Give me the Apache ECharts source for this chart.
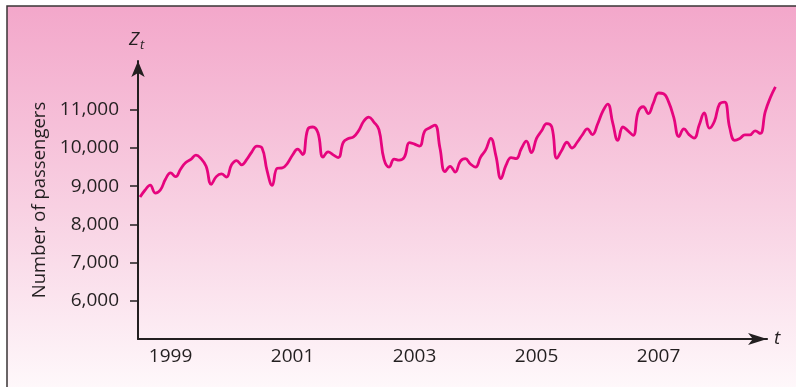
<!DOCTYPE html>
<html>
<head>
<meta charset="utf-8">
<script src="https://cdn.jsdelivr.net/npm/echarts@6/dist/echarts.min.js"></script>
<style>
html,body{margin:0;padding:0;background:#fff;}
#chart{width:796px;height:387px;}
</style>
</head>
<body>
<div id="chart"></div>
<script>
// Monthly passengers, Jan 1999 .. Jun 2009
const passengers = [
  8715, 8900, 9030, 8820, 8900, 9180, 9350, 9250, 9450, 9620, 9700, 9815,
  9720, 9520, 9050, 9250, 9320, 9240, 9560, 9670, 9560, 9700, 9900, 10050,
  10000, 9400, 9020, 9470, 9480, 9600, 9815, 9970, 9830, 10490, 10550, 10400,
  9760, 9900, 9820, 9750, 10150, 10250, 10290, 10450, 10700, 10810, 10680, 10480,
  9700, 9500, 9710, 9680, 9760, 10140, 10100, 10050, 10440, 10530, 10600, 10000,
  9380, 9520, 9370, 9650, 9720, 9580, 9500, 9760, 9950, 10250, 9800, 9200,
  9550, 9750, 9720, 9980, 10180, 9880, 10250, 10450, 10640, 10550, 9730, 9950,
  10150, 10000, 10150, 10340, 10500, 10350, 10620, 10950, 11150, 10650, 10200, 10550,
  10450, 10330, 10950, 11080, 10900, 11180, 11440, 11420, 11200, 10800, 10300, 10500,
  10350, 10260, 10600, 10920, 10520, 10700, 11150, 11200, 10530, 10200, 10250, 10345,
  10345, 10450, 10380, 10950, 11320, 11600
];
const yearLabels = ['1999', '2001', '2003', '2005', '2007'];
const yearLabelMonths = [6, 30, 54, 78, 102];
const yTickValues = [6000, 7000, 8000, 9000, 10000, 11000];

const ink = '#231f20';
const font = '"Open Sans", "Noto Sans", sans-serif';

// both grids share the same px-per-month and px-per-passenger scale
const pxPerMonth = 5.0833;
const xMin = -0.4, xAxisMax = 123.35, xDataMax = 126;
const gridLeft = 138, gridTop = 61, gridH = 278;
const axisW = (xAxisMax - xMin) * pxPerMonth;
const dataW = (xDataMax - xMin) * pxPerMonth;
const yMin = 5000, yMax = 12277;

const chart = echarts.init(document.getElementById('chart'), null, {renderer: 'canvas'});
chart.setOption({
  animation: false,
  backgroundColor: '#ffffff',
  graphic: [
    {
      type: 'rect', z: -10, silent: true,
      shape: {x: 7, y: 6, width: 800, height: 400},
      style: {
        fill: new echarts.graphic.LinearGradient(0, 0, 0, 1, [
          {offset: 0, color: '#f3a7ca'},
          {offset: 0.5, color: '#f8d0e2'},
          {offset: 1, color: '#fffcfd'}
        ]),
        stroke: '#3a3436', lineWidth: 1.5
      }
    },
    {
      type: 'text', z: 10, left: 129, top: 30,
      style: {
        text: '{z|Z}{s|t}',
        rich: {
          z: {fontFamily: font, fontStyle: 'italic', fontSize: 19, fill: ink},
          s: {fontFamily: font, fontStyle: 'italic', fontSize: 13, fill: ink, padding: [11, 0, 0, 1]}
        }
      }
    }
  ],
  grid: [
    {left: gridLeft, top: gridTop, width: axisW, height: gridH, containLabel: false},
    {left: gridLeft, top: gridTop, width: dataW, height: gridH, containLabel: false}
  ],
  xAxis: [{
    gridIndex: 0, type: 'value', min: xMin, max: xAxisMax,
    splitLine: {show: false},
    axisTick: {show: false},
    axisLine: {
      onZero: false,
      lineStyle: {color: ink, width: 2},
      symbol: ['none', 'arrow'], symbolSize: [9, 19]
    },
    axisLabel: {
      customValues: yearLabelMonths,
      formatter: v => yearLabels[yearLabelMonths.indexOf(Math.round(v))] || '',
      color: ink, fontFamily: font, fontSize: 19, margin: 8
    },
    name: 't', nameLocation: 'end', nameGap: 7,
    nameTextStyle: {color: ink, fontFamily: font, fontStyle: 'italic', fontSize: 19, verticalAlign: 'middle'}
  }, {
    gridIndex: 1, type: 'value', min: xMin, max: xDataMax, show: false
  }],
  yAxis: [{
    gridIndex: 0, type: 'value', min: yMin, max: yMax,
    splitLine: {show: false},
    axisLine: {
      show: true, onZero: false,
      lineStyle: {color: ink, width: 2},
      symbol: ['none', 'arrow'], symbolSize: [10, 16]
    },
    axisTick: {show: true, customValues: yTickValues, length: 8, lineStyle: {color: ink, width: 1.5}},
    axisLabel: {
      customValues: yTickValues,
      formatter: v => v.toLocaleString('en-US'),
      color: ink, fontFamily: font, fontSize: 19, margin: 19
    },
    name: 'Number of passengers', nameLocation: 'middle', nameRotate: 90, nameGap: 86,
    nameTextStyle: {color: ink, fontFamily: font, fontSize: 18.5, padding: [0, 0, 0, 0]}
  }, {
    gridIndex: 1, type: 'value', min: yMin, max: yMax, show: false
  }],
  series: [{
    type: 'line',
    xAxisIndex: 1, yAxisIndex: 1,
    data: passengers.map((v, i) => [i, v]),
    smooth: 0.45,
    showSymbol: false,
    lineStyle: {color: '#e6047e', width: 2.8}
  }]
});
</script>
</body>
</html>
